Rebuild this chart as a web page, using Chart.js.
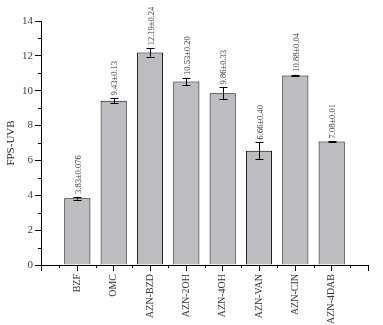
<!DOCTYPE html>
<html>
<head>
<meta charset="utf-8">
<script src="https://cdn.jsdelivr.net/npm/chart.js@4.4.1/dist/chart.umd.min.js"></script>
<style>
  body { margin: 0; background: #fff; }
  #wrap { width: 383px; height: 325px; position: relative; }
</style>
</head>
<body>
<div id="wrap"><canvas id="myChart"></canvas></div>
<script>
'use strict';

// samples on the x axis
const samples = ['BZF', 'OMC', 'AZN-BZD', 'AZN-2OH', 'AZN-4OH', 'AZN-VAN', 'AZN-CIN', 'AZN-4DAB'];
// FPS-UVB means and error bar half-widths
const fpsValues = [3.83, 9.43, 12.19, 10.53, 9.86, 6.55, 10.88, 7.08];
const fpsErrors = [0.076, 0.13, 0.24, 0.20, 0.33, 0.48, 0.04, 0.01];
// text printed above each bar
const valueLabels = ['3.83±0.076', '9.43±0.13', '12.19±0.24', '10.53±0.20', '9.86±0.33', '6.66±0.40', '10.88±0.04', '7.08±0.01'];
const yTicks = [0, 2, 4, 6, 8, 10, 12, 14];

Chart.defaults.font.family = '"Liberation Serif", "Times New Roman", serif';

// empty slot at both ends of the category axis
const labels = [''].concat(samples, ['']);
const barData = [null].concat(fpsValues, [null]);
const errData = [null].concat(fpsErrors, [null]);
const txtData = [null].concat(valueLabels, [null]);

const errorBars = {
  id: 'errorBars',
  afterDatasetsDraw(chart) {
    const ctx = chart.ctx;
    const y = chart.scales.y;
    const meta = chart.getDatasetMeta(0);
    ctx.save();
    meta.data.forEach((bar, i) => {
      if (barData[i] == null) return;
      const top = y.getPixelForValue(barData[i] + errData[i]);
      const bot = y.getPixelForValue(barData[i] - errData[i]);
      const x = Math.round(bar.x) + 0.5;
      ctx.strokeStyle = '#000';
      ctx.lineWidth = 1;
      ctx.beginPath();
      ctx.moveTo(x, top); ctx.lineTo(x, bot);
      ctx.moveTo(x - 4, Math.round(top) + 0.5); ctx.lineTo(x + 4, Math.round(top) + 0.5);
      ctx.moveTo(x - 4, Math.round(bot) + 0.5); ctx.lineTo(x + 4, Math.round(bot) + 0.5);
      ctx.stroke();

      // value text, rotated, reading upwards
      ctx.save();
      ctx.translate(bar.x + 1.5, top - 3);
      ctx.rotate(-Math.PI / 2);
      ctx.fillStyle = '#333';
      ctx.font = '8.5px "Liberation Serif", serif';
      ctx.textAlign = 'left';
      ctx.textBaseline = 'middle';
      ctx.fillText(txtData[i], 0, 0);
      ctx.restore();
    });
    ctx.restore();
  }
};

const minorTicks = {
  id: 'minorTicks',
  afterDraw(chart) {
    const ctx = chart.ctx;
    const x = chart.scales.x;
    const y = chart.scales.y;
    const area = chart.chartArea;
    ctx.save();
    ctx.strokeStyle = '#000';
    ctx.lineWidth = 1;
    ctx.beginPath();
    for (let v = 1; v < 14; v += 2) {
      const py = Math.round(y.getPixelForValue(v)) + 0.5;
      ctx.moveTo(area.left - 3, py); ctx.lineTo(area.left, py);
    }
    for (let i = 0; i < labels.length - 1; i++) {
      const px = Math.round((x.getPixelForValue(i) + x.getPixelForValue(i + 1)) / 2) + 0.5;
      ctx.moveTo(px, area.bottom); ctx.lineTo(px, area.bottom + 3);
    }
    ctx.stroke();
    ctx.restore();
  }
};

new Chart('myChart', {
  type: 'bar',
  data: {
    labels: labels,
    datasets: [{
      data: barData,
      backgroundColor: '#bdbdc1',
      borderColor: '#000',
      borderWidth: 1,
      barPercentage: 0.72,
      categoryPercentage: 1
    }]
  },
  options: {
    responsive: true,
    maintainAspectRatio: false,
    animation: false,
    layout: { padding: { left: 0, top: 21, right: 9, bottom: 0 } },
    plugins: { legend: { display: false }, tooltip: { enabled: false } },
    scales: {
      x: {
        offset: false,
        grid: { offset: false, drawOnChartArea: false, tickLength: 6, tickColor: '#000' },
        border: { color: '#000', width: 1 },
        ticks: {
          autoSkip: false, maxRotation: 90, minRotation: 90, padding: 3,
          color: '#333', font: { size: 10 }
        },
        afterFit(scale) { scale.height = 60; }
      },
      y: {
        min: 0, max: 14,
        afterBuildTicks(scale) { scale.ticks = yTicks.map(v => ({ value: v })); },
        grid: { drawOnChartArea: false, tickLength: 6, tickColor: '#000' },
        border: { color: '#000', width: 1 },
        ticks: { padding: 2, color: '#444', font: { size: 11 } },
        title: {
          display: true, text: 'FPS-UVB', color: '#222',
          font: { size: 11 }, padding: { top: 5, bottom: 0 }
        },
        afterFit(scale) { scale.width = 41; }
      }
    }
  },
  plugins: [errorBars, minorTicks]
});
</script>
</body>
</html>
